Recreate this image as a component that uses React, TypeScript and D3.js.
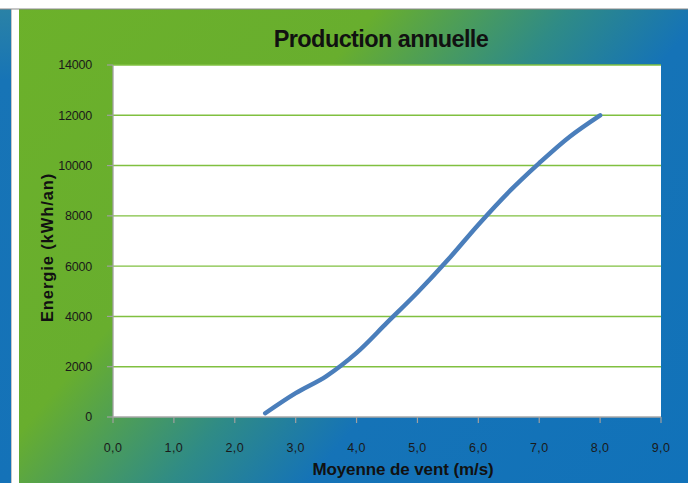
import React from "react";
import * as d3 from "d3";

const windSpeed = [2.5, 3, 3.5, 4, 4.5, 5, 5.5, 6, 6.5, 7, 7.5, 8];
const energy = [150, 950, 1620, 2550, 3750, 4950, 6250, 7650, 8950, 10100, 11150, 12000];
const yTicks = [0, 2000, 4000, 6000, 8000, 10000, 12000, 14000];
const xTicks = [0, 1, 2, 3, 4, 5, 6, 7, 8, 9];

const W = 688;
const H = 483;

export default function App() {
  const x = d3.scaleLinear().domain([0, 9]).range([113, 661]);
  const y = d3.scaleLinear().domain([0, 14000]).range([417, 65]);
  const pts = windSpeed.map((w, i) => [w, energy[i]] as [number, number]);
  const line = d3
    .line<[number, number]>()
    .x((d) => x(d[0]))
    .y((d) => y(d[1]))
    .curve(d3.curveCatmullRom.alpha(0.5));
  const fmtX = (v: number) => v.toFixed(1).replace(".", ",");
  const font = "Arial, 'Liberation Sans', sans-serif";

  return (
    <svg
      width={W}
      height={H}
      style={{ position: "absolute", left: 0, top: 0, display: "block" }}
      xmlns="http://www.w3.org/2000/svg"
    >
      <defs>
        <linearGradient id="bg" gradientUnits="userSpaceOnUse" x1={0} y1={0} x2={642.4} y2={542.2}>
          <stop offset="0" stopColor="#6cb12a" />
          <stop offset="0.35" stopColor="#68ae2e" />
          <stop offset="0.525" stopColor="#2f8b86" />
          <stop offset="0.65" stopColor="#1573b7" />
          <stop offset="1" stopColor="#1172b9" />
        </linearGradient>
        <linearGradient id="strip" x1="0" y1="0" x2="0" y2="1">
          <stop offset="0" stopColor="#2a82a6" />
          <stop offset="0.15" stopColor="#1774b6" />
          <stop offset="1" stopColor="#1472b8" />
        </linearGradient>
      </defs>
      <rect x={0} y={0} width={W} height={H} fill="#ffffff" />
      <rect x={0} y={9} width={11} height={H - 9} fill="url(#strip)" />
      <line x1={11.5} y1={9} x2={11.5} y2={H} stroke="#c8c8c8" strokeWidth={1} />
      <rect x={19} y={9} width={W - 19} height={H - 9} fill="url(#bg)" />
      <line x1={0} y1={9} x2={W} y2={9} stroke="#8a8a8a" strokeWidth={1} />

      {/* plot area */}
      <rect x={x(0)} y={y(14000)} width={x(9) - x(0)} height={y(0) - y(14000)} fill="#ffffff" />
      {yTicks
        .filter((t) => t > 0)
        .map((t) => (
          <line key={"g" + t} x1={x(0)} x2={x(9)} y1={y(t)} y2={y(t)} stroke="#80c040" strokeWidth={1.4} />
        ))}
      <line x1={x(0)} x2={x(0)} y1={y(14000)} y2={y(0)} stroke="#a0a0a0" strokeWidth={1.3} />
      <line x1={x(0)} x2={x(9)} y1={y(0)} y2={y(0)} stroke="#a8a8a8" strokeWidth={1.5} />
      {yTicks.map((t) => (
        <g key={"y" + t}>
          <line x1={x(0) - 6} x2={x(0)} y1={y(t)} y2={y(t)} stroke="#a0a0a0" strokeWidth={1.2} />
          <text
            x={92}
            y={y(t)}
            dy="0.35em"
            textAnchor="end"
            fontFamily={font}
            fontSize={12.5}
            letterSpacing={-0.2}
            fill="#1a1a1a"
          >
            {t}
          </text>
        </g>
      ))}
      {xTicks.map((t) => (
        <g key={"x" + t}>
          <line x1={x(t)} x2={x(t)} y1={y(0)} y2={y(0) + 6} stroke="#a0a0a0" strokeWidth={1.2} />
          <text
            x={x(t)}
            y={448}
            dy="0.35em"
            textAnchor="middle"
            fontFamily={font}
            fontSize={12.5}
            letterSpacing={0.4}
            fill="#1a1a1a"
          >
            {fmtX(t)}
          </text>
        </g>
      ))}

      <path
        d={line(pts) || ""}
        fill="none"
        stroke="#4a7ebb"
        strokeWidth={4.5}
        strokeLinecap="round"
        strokeLinejoin="round"
      />

      <text
        x={381}
        y={47}
        textAnchor="middle"
        fontFamily={font}
        fontWeight="bold"
        fontSize={23.5}
        letterSpacing={-0.6}
        fill="#111111"
      >
        Production annuelle
      </text>
      <text
        x={403}
        y={475}
        textAnchor="middle"
        fontFamily={font}
        fontWeight="bold"
        fontSize={17}
        letterSpacing={-0.1}
        fill="#111111"
      >
        Moyenne de vent (m/s)
      </text>
      <text
        transform={`translate(52.5, 247.5) rotate(-90)`}
        textAnchor="middle"
        fontFamily={font}
        fontWeight="bold"
        fontSize={16.5}
        letterSpacing={0.9}
        fill="#111111"
      >
        Energie (kWh/an)
      </text>
    </svg>
  );
}
